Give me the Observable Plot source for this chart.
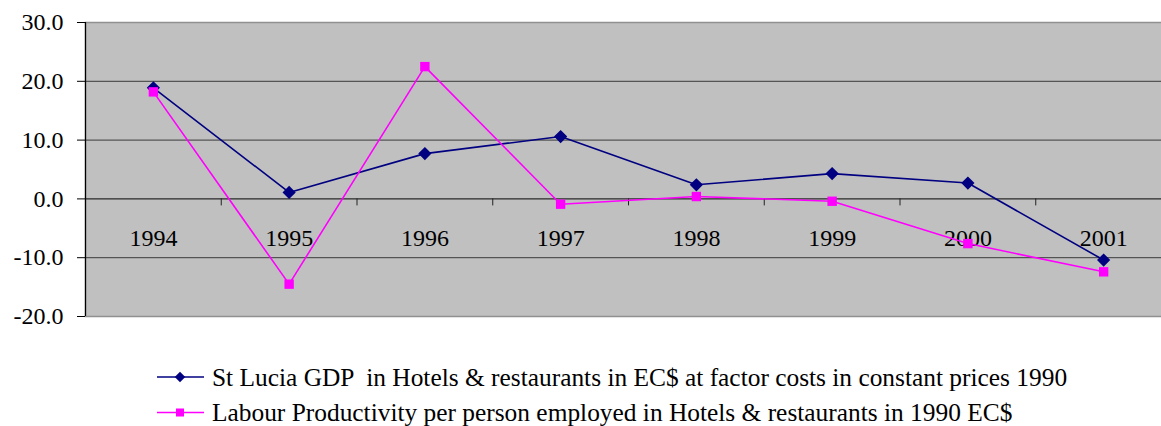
<!DOCTYPE html>
<html>
<head>
<meta charset="utf-8">
<script src="https://cdn.jsdelivr.net/npm/d3@7"></script>
<script src="https://cdn.jsdelivr.net/npm/@observablehq/plot@0.6"></script>
<style>
  html, body { margin: 0; padding: 0; background: #ffffff; }
  #fontprime { position: absolute; left: 0; top: 0; font-family: 'Liberation Serif'; font-size: 24px; line-height: 1px; color: #ffffff; }
</style>
</head>
<body>
<span id="fontprime">&nbsp;</span>
<div id="chart" style="font-family:'Liberation Serif'"></div>
<script>
// ---- data ----
const years = [1994, 1995, 1996, 1997, 1998, 1999, 2000, 2001];
const gdpValues = [18.9, 1.1, 7.7, 10.6, 2.4, 4.3, 2.7, -10.4];
const productivityValues = [18.2, -14.5, 22.5, -0.9, 0.4, -0.4, -7.6, -12.4];
const yTicks = [-20, -10, 0, 10, 20, 30];
const seriesNames = [
  "St Lucia GDP  in Hotels & restaurants in EC$ at factor costs in constant prices 1990",
  "Labour Productivity per person employed in Hotels & restaurants in 1990 EC$"
];
const seriesColors = ["#000080", "#ff00ff"];

// ---- derived tables ----
const gdpRows = years.map((year, i) => ({year, value: gdpValues[i]}));
const prodRows = years.map((year, i) => ({year, value: productivityValues[i]}));
const xDomain = [years[0] - 0.5, years[years.length - 1] + 0.5];
const boundaries = years.slice(1).map(y => y - 0.5);
const innerGrid = yTicks.filter(t => t !== yTicks[0] && t !== yTicks[yTicks.length - 1] && t !== 0);

const font = "Liberation Serif";

const plot = Plot.plot({
  width: 1161,
  height: 330,
  marginLeft: 85,
  marginRight: -10,
  marginTop: 22,
  marginBottom: 14,
  style: {fontFamily: font, fontSize: "24px", background: "#ffffff"},
  x: {domain: xDomain, axis: null},
  y: {domain: [yTicks[0], yTicks[yTicks.length - 1]], axis: null},
  marks: [
    Plot.frame({fill: "#c0c0c0", stroke: "#909090", strokeWidth: 1.5}),
    Plot.ruleY(innerGrid, {stroke: "#3a3a3a", strokeWidth: 1}),
    Plot.ruleY([0], {stroke: "#2a2a2a", strokeWidth: 1.2}),
    Plot.ruleX(boundaries, {x: d => d, y1: () => 0, y2: () => 0, insetBottom: -7, stroke: "#222"}),
    Plot.ruleX([xDomain[0]], {stroke: "#000", strokeWidth: 1.2}),
    Plot.axisY({
      ticks: yTicks, tickSize: 8, tickPadding: 14, label: null,
      tickFormat: d => d.toFixed(1),
      fontSize: 24, stroke: "#000", color: "#000"
    }),
    Plot.text(years, {x: d => d, y: () => 0, dy: 39, text: d => String(d), fontSize: 24, fill: "#000"}),
    Plot.line(gdpRows, {x: "year", y: "value", stroke: seriesColors[0], strokeWidth: 1.6}),
    Plot.dot(gdpRows, {x: "year", y: "value", symbol: "diamond2", fill: seriesColors[0], stroke: seriesColors[0], r: 5}),
    Plot.line(prodRows, {x: "year", y: "value", stroke: seriesColors[1], strokeWidth: 1.6}),
    Plot.dot(prodRows, {x: "year", y: "value", symbol: "square", fill: seriesColors[1], r: 5.3})
  ]
});

const chart = document.getElementById("chart");
chart.appendChild(plot);

// ---- legend (below the plot) ----
const legend = d3.create("svg")
  .attr("width", 1161)
  .attr("height", 96)
  .style("display", "block")
  .attr("font-family", font);
const symbols = [d3.symbolDiamond2, d3.symbolSquare];
const sizes = [70, 64];
seriesNames.forEach((name, i) => {
  const cy = 47 + i * 35.5;
  const g = legend.append("g");
  g.append("line").attr("x1", 157).attr("x2", 204).attr("y1", cy).attr("y2", cy)
    .attr("stroke", seriesColors[i]).attr("stroke-width", 1.6);
  g.append("path").attr("d", d3.symbol(symbols[i], sizes[i])())
    .attr("transform", `translate(180,${cy})`).attr("fill", seriesColors[i]);
  g.append("text").attr("x", 212).attr("y", cy + 8.5)
    .attr("font-size", 25.4).attr("fill", "#000")
    .style("white-space", "pre")
    .text(name);
});
chart.appendChild(legend.node());
</script>
</body>
</html>
